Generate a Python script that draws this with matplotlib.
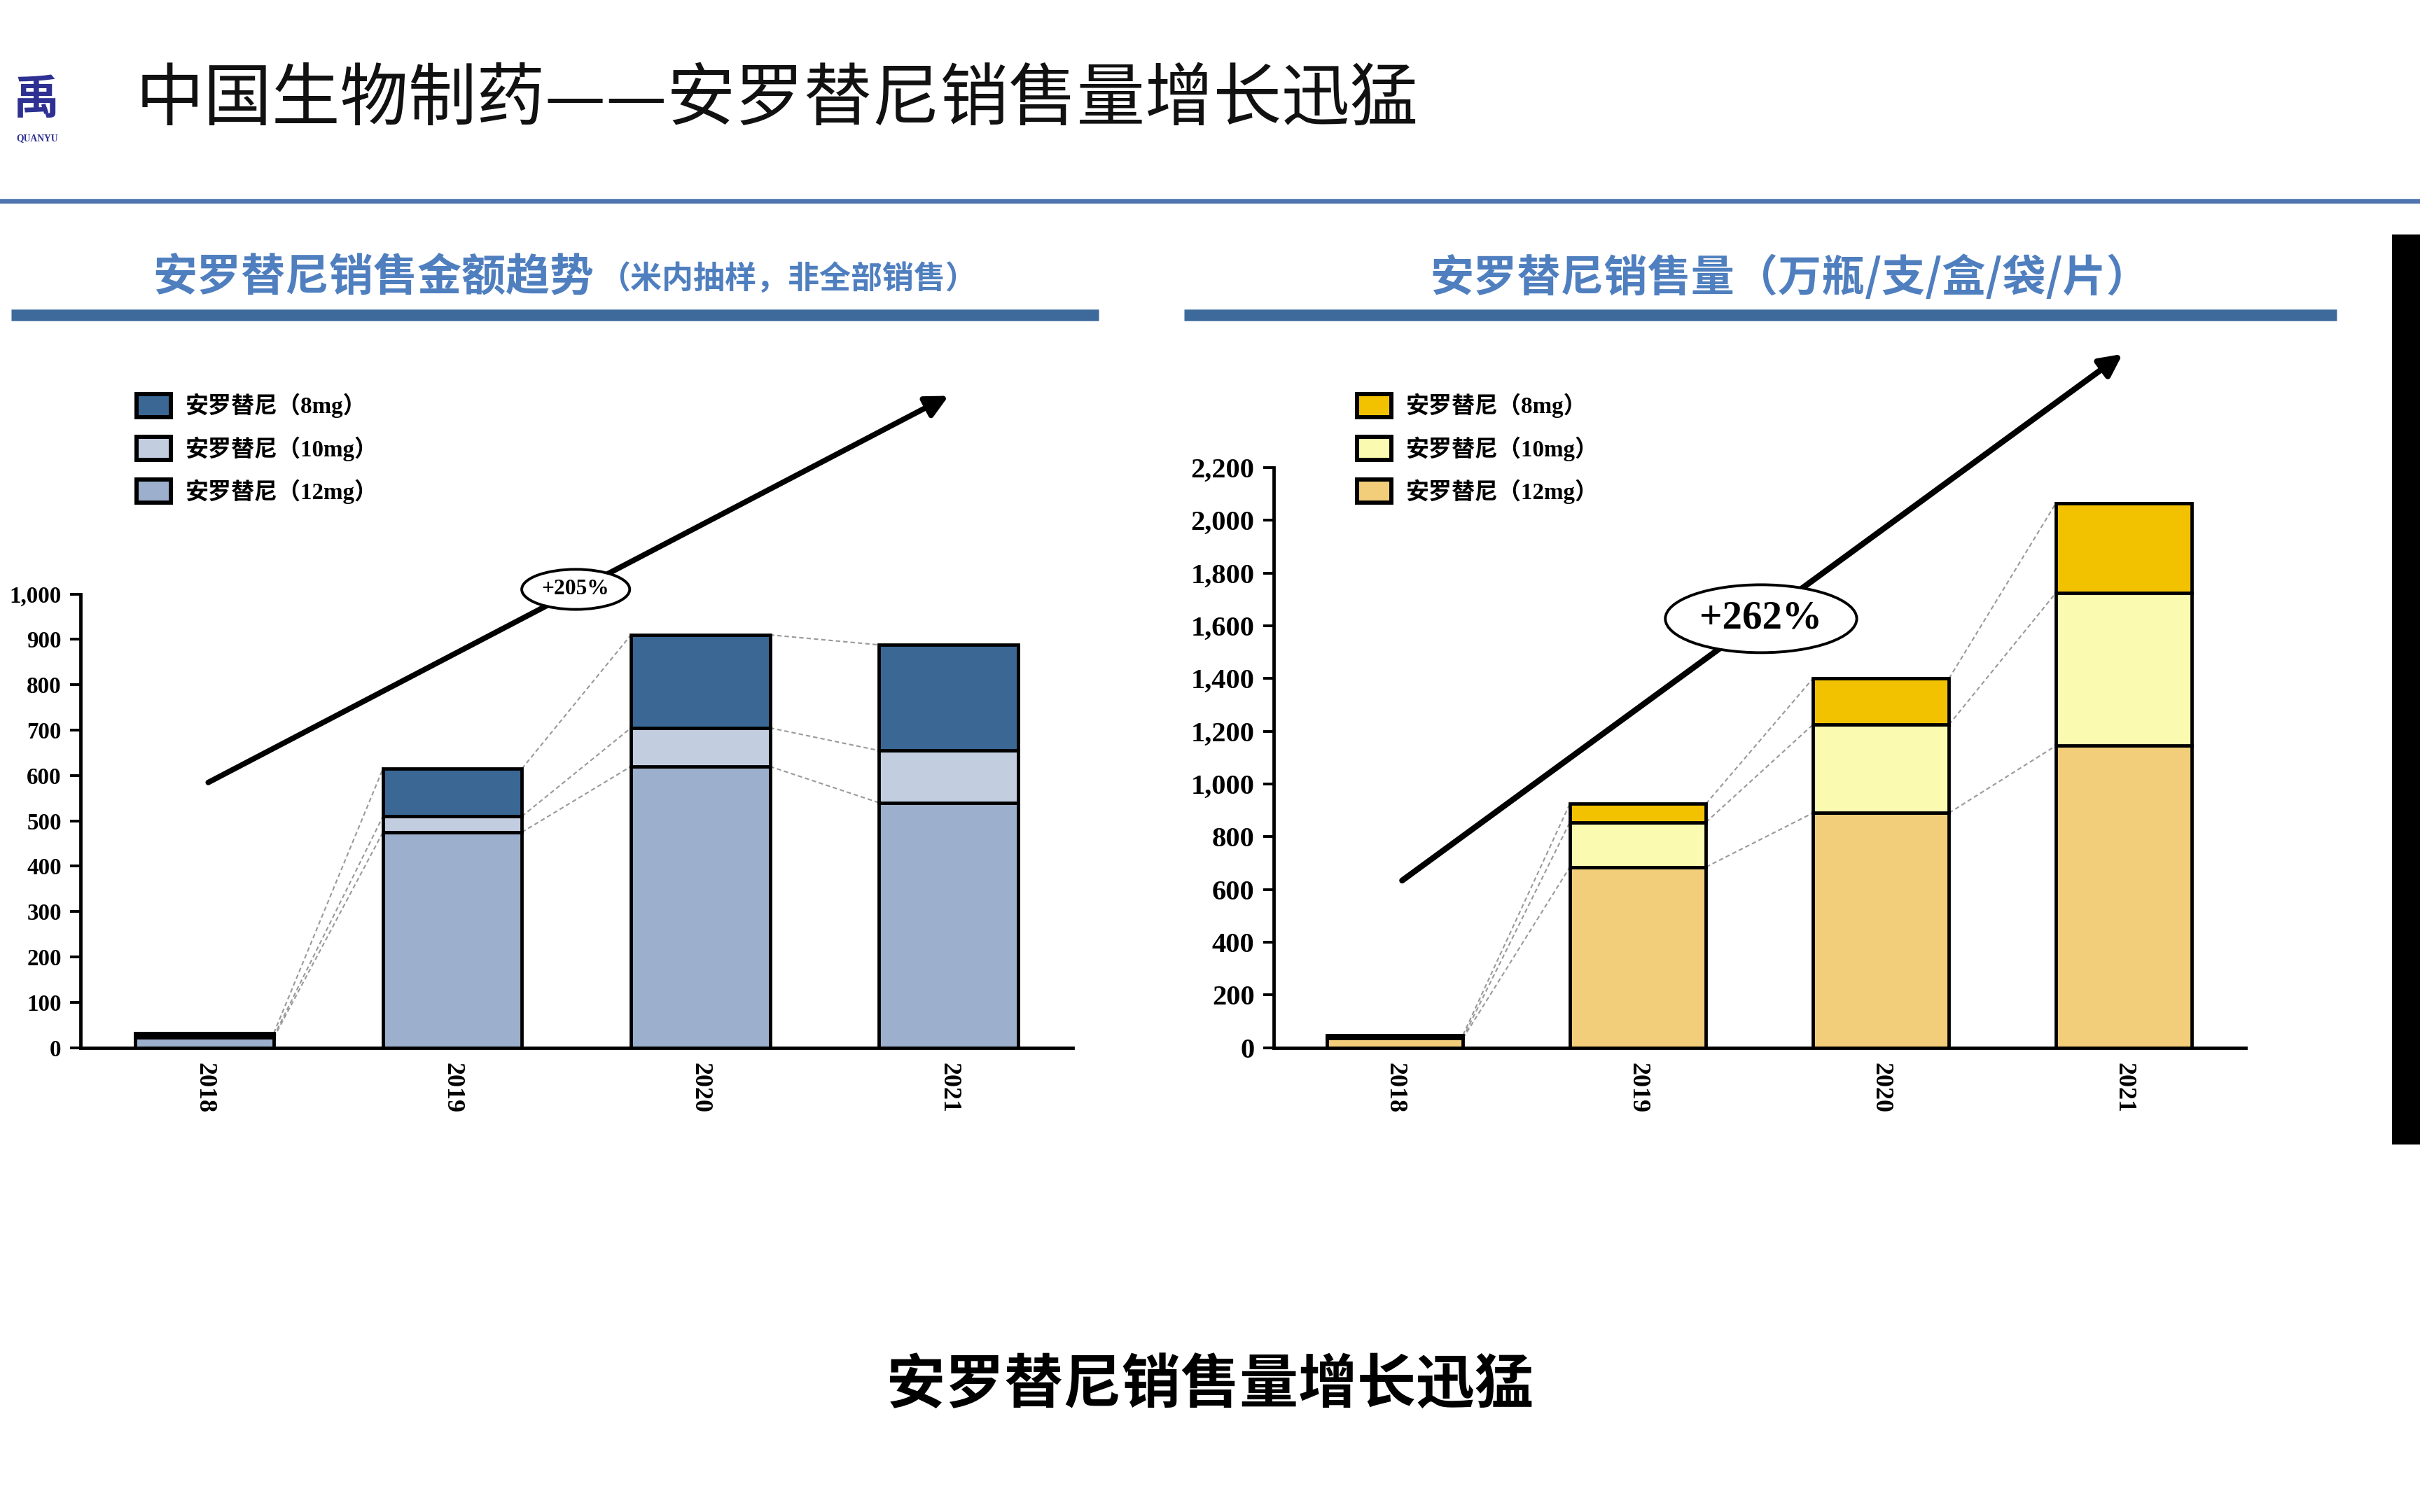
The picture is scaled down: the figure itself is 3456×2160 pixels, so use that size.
import numpy as np
import matplotlib.pyplot as plt
from matplotlib.patches import Ellipse, Rectangle, Patch
from matplotlib.lines import Line2D
from matplotlib.ticker import StrMethodFormatter

plt.rcParams['font.family'] = ['Liberation Serif', 'Noto Sans CJK SC']

years = ['2018', '2019', '2020', '2021']
doses = ['安罗替尼（8mg）', '安罗替尼（10mg）', '安罗替尼（12mg）']

# 销售金额 (left)
amt_12mg = [22, 475, 620, 540]
amt_10mg = [3, 35, 85, 115]
amt_8mg = [7, 105, 205, 233]

# 销售量 (right)
vol_12mg = [35, 685, 890, 1145]
vol_10mg = [3, 170, 335, 580]
vol_8mg = [10, 70, 175, 340]

blue_cols = ['#3a6794', '#c3cde0', '#9cafcc']     # 8mg, 10mg, 12mg
gold_cols = ['#f2c200', '#fafab0', '#f2cd7a']

title_blue = '#4f7fbf'
bar_blue = '#3d6a9a'

fig = plt.figure(figsize=(16, 10), dpi=216)
fig.patch.set_facecolor('white')


def stacked(ax, s12, s10, s8, cols, ymax, step, tick_fs, w=0.56):
    x = np.arange(len(years))
    s12 = np.array(s12); s10 = np.array(s10); s8 = np.array(s8)
    ax.bar(x, s12, w, color=cols[2], edgecolor='black', linewidth=1.6, zorder=3)
    ax.bar(x, s10, w, bottom=s12, color=cols[1], edgecolor='black', linewidth=1.6, zorder=3)
    ax.bar(x, s8, w, bottom=s12 + s10, color=cols[0], edgecolor='black', linewidth=1.6, zorder=3)
    levels = [s12, s12 + s10, s12 + s10 + s8]
    for lv in levels:
        for i in range(len(x) - 1):
            ax.plot([x[i] + w / 2, x[i + 1] - w / 2], [lv[i], lv[i + 1]],
                    color='#9a9a9a', ls=(0, (3, 2)), lw=0.7, zorder=2)
    ax.set_xlim(-0.5, 3.5)
    ax.set_ylim(0, ymax)
    ax.set_yticks(np.arange(0, ymax + 1, step))
    ax.yaxis.set_major_formatter(StrMethodFormatter('{x:,.0f}'))
    ax.set_xticks(x)
    ax.set_xticklabels(years, rotation=-90, fontsize=12, fontweight='bold')
    for s in ['top', 'right']:
        ax.spines[s].set_visible(False)
    for s in ['left', 'bottom']:
        ax.spines[s].set_linewidth(1.6)
    ax.tick_params(axis='y', length=5, width=1.3, labelsize=tick_fs, pad=4)
    ax.tick_params(axis='x', length=0, pad=7)
    for t in ax.get_yticklabels():
        t.set_fontweight('bold')
    ax.set_facecolor('none')


axL = fig.add_axes([0.0332, 0.3071, 0.41, 0.30])
stacked(axL, amt_12mg, amt_10mg, amt_8mg, blue_cols, 1000, 100, 11)

axR = fig.add_axes([0.5262, 0.3071, 0.4017, 0.3837])
stacked(axR, vol_12mg, vol_10mg, vol_8mg, gold_cols, 2200, 200, 13.5)

# legends
for ax, cols, x0 in [(axL, blue_cols, 0.0497), (axR, gold_cols, 0.5540)]:
    handles = [Patch(facecolor=c, edgecolor='black', linewidth=2) for c in cols]
    ax.legend(handles, doses, loc='upper left', bbox_to_anchor=(x0, 0.7505),
              bbox_transform=fig.transFigure, frameon=False,
              prop={'family': ['Liberation Serif', 'Noto Sans CJK SC'], 'weight': 'bold', 'size': 11},
              handlelength=1.5, handleheight=1.15, labelspacing=0.78, handletextpad=0.6,
              borderpad=0.2)

# trend arrows
axL.annotate('', xy=(0.3935, 0.7395), xytext=(0.0845, 0.4812),
             xycoords='figure fraction', textcoords='figure fraction',
             arrowprops=dict(arrowstyle='-|>', color='black', lw=2.6, mutation_scale=22))
axR.annotate('', xy=(0.8785, 0.7675), xytext=(0.5780, 0.4160),
             xycoords='figure fraction', textcoords='figure fraction',
             arrowprops=dict(arrowstyle='-|>', color='black', lw=2.8, mutation_scale=22))

# growth ellipses
for (cx, cy, ew, eh, txt, fs) in [(0.2379, 0.6102, 0.0446, 0.0265, '+205%', 10.5),
                                  (0.7277, 0.5908, 0.0791, 0.0449, '+262%', 19)]:
    fig.patches.append(Ellipse((cx, cy), ew, eh, transform=fig.transFigure,
                               facecolor='white', edgecolor='black', lw=1.3, zorder=5))
    fig.text(cx, cy, txt, ha='center', va='center', fontsize=fs, fontweight='bold', zorder=6)

# panel titles and bars
fig.text(0.2455, 0.8163, '安罗替尼销售金额趋势', ha='right', va='center', fontsize=21,
         fontweight='bold', color=title_blue, family=['Noto Sans CJK SC'])
fig.text(0.2475, 0.8153, '（米内抽样，非全部销售）', ha='left', va='center', fontsize=15,
         fontweight='bold', color=title_blue, family=['Noto Sans CJK SC'])
fig.text(0.7398, 0.8163, '安罗替尼销售量（万瓶/支/盒/袋/片）', ha='center', va='center',
         fontsize=20.7, fontweight='bold', color=title_blue, family=['Noto Sans CJK SC'])
fig.add_artist(Line2D([0.0045, 0.4541], [0.7918, 0.7918], transform=fig.transFigure,
                      color=bar_blue, lw=5.5, solid_capstyle='butt'))
fig.add_artist(Line2D([0.4892, 0.9656], [0.7918, 0.7918], transform=fig.transFigure,
                      color=bar_blue, lw=5.5, solid_capstyle='butt'))

# header
fig.text(0.0561, 0.9337, '中国生物制药——安罗替尼销售量增长迅猛', ha='left', va='center',
         fontsize=32.5, color='#111111', family=['Noto Sans CJK SC'], fontweight='light')
fig.text(0.0245, 0.9340, '禹', ha='right', va='center', fontsize=22, fontweight='bold',
         color='#2e3192', family=['Noto Sans CJK SC'])
fig.text(0.0240, 0.9085, 'QUANYU', ha='right', va='center', fontsize=4.5, fontweight='bold',
         color='#2e3192')
fig.add_artist(Line2D([0, 1], [0.8673, 0.8673], transform=fig.transFigure,
                      color='#4f74b0', lw=2.2))

# right-edge black bar
fig.patches.append(Rectangle((0.9885, 0.2429), 0.0115, 0.6020, transform=fig.transFigure,
                             facecolor='black', edgecolor='none'))

# caption
fig.text(0.5, 0.0837, '安罗替尼销售量增长迅猛', ha='center', va='center', fontsize=28,
         fontweight='bold', color='black', family=['Noto Sans CJK SC'])

fig.savefig('out.png', dpi=216, facecolor='white')
